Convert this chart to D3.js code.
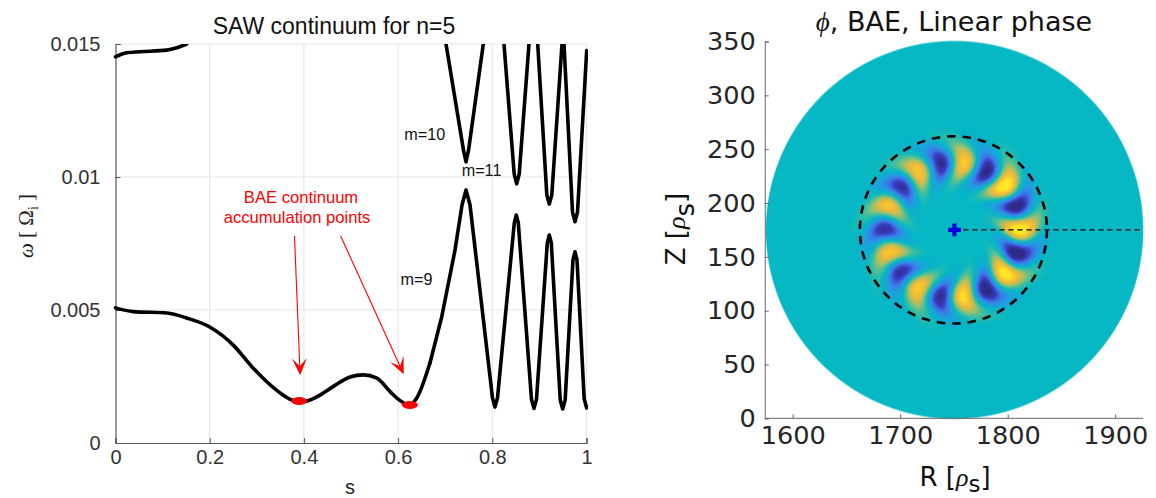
<!DOCTYPE html>
<html><head><meta charset="utf-8">
<style>html,body{margin:0;padding:0;background:#fff}svg{display:block}</style>
<script src="https://cdn.jsdelivr.net/npm/d3@7"></script></head>
<body><svg id="c" width="1156" height="498"></svg>
<script>
// ---- left panel data
const sTicks=[0,0.2,0.4,0.6,0.8,1];
const sTickLabels=["0","0.2","0.4","0.6","0.8","1"];
const wTicks=[0,0.005,0.01,0.015];
const wTickLabels=["0","0.005","0.01","0.015"];
const upperLeftS=[0,0.0238,0.052,0.1087,0.13,0.151];
const upperLeftW=[0.01452,0.01467,0.01471,0.01477,0.01486,0.0150];
const m9SmoothS=[0,0.0372,0.1097,0.151,0.2,0.25,0.29,0.32,0.356,0.374,0.39,0.409,0.434,0.462,0.498,0.526,0.555,0.583,0.602,0.625,0.6395,0.6677];
const m9SmoothW=[0.00508,0.00494,0.00489,0.0047,0.00436,0.00368,0.00286,0.00232,0.0018,0.00162,0.00155,0.00159,0.0018,0.00212,0.00248,0.00256,0.00244,0.00193,0.00162,0.00143,0.00169,0.00301];
const m9OscS=[0.6677,0.6926,0.7208,0.7357,0.7442,0.7527,0.8004,0.8057,0.8110,0.8467,0.8510,0.8552,0.8832,0.8885,0.8938,0.9168,0.921,0.9253,0.9442,0.9494,0.9547,0.9713,0.9756,0.9798,0.9951,1.0004];
const m9OscW=[0.00301,0.00474,0.00725,0.00895,0.00951,0.00895,0.00169,0.00135,0.00169,0.00827,0.00857,0.00827,0.00164,0.0013,0.00164,0.00752,0.00782,0.00752,0.00162,0.00128,0.00162,0.00689,0.00719,0.00689,0.00165,0.00132];
const m10S=[0.6953,0.7017,0.7389,0.7442,0.7495,0.7809,0.7951,0.8248,0.8465,0.8518,0.8571,0.8779,0.8885,0.8964,0.9158,0.921,0.9263,0.948,0.9501,0.9522,0.9703,0.9756,0.9809,1.0004];
const m10W=[0.0157,0.015,0.011,0.01057,0.011,0.015,0.017,0.015,0.01011,0.00974,0.01011,0.015,0.01646,0.015,0.00932,0.00898,0.00932,0.015,0.01522,0.015,0.00868,0.00832,0.00868,0.01475];
const accumS=[0.39,0.625];
const accumW=[0.00158,0.00143];
const modeLabels=["m=10","m=11","m=9"];
const modeS=[0.613,0.735,0.605];
const modeW=[0.01140,0.01005,0.00595];
const arrowTailS=[0.380,0.478];
const arrowTailW=[0.00778,0.00778];
const arrowTipS=[0.392,0.612];
const arrowTipW=[0.00255,0.00258];
// ---- right panel data
const rTicks=[1600,1700,1800,1900];
const zTicks=[0,50,100,150,200,250,300,350];
const lobeAngle=[0,20.6,41,61.7,83,102,122,142,161,181,200,219,238,259,278,299,319,339];
const lobeRadius=[60.8,61.7,62,62.6,62.3,63.6,63.9,63.6,63.6,64.8,65.4,63.6,63.9,63.2,63.2,62,62.3,61.7];
const lobeAmp=[1,-1,.95,-.95,.85,-.85,.75,-.8,.72,-.8,.7,-.8,.72,-.85,.75,-.9,1,-.95];
const colorStops=["#2f2a85","#3a3cc0","#3f78ea","#1ea0de","#05b8c4","#49bf9a","#a8c064","#e8b93f","#f9c62e","#fde725"];
const colorPos=[-1,-.75,-.5,-.25,0,.2,.4,.6,.8,1];
const discCenter=[1750.5,175];
const discRadius=175.5;
const qRadius=87;

const svg=d3.select("#c");
const sans="'Liberation Sans',Arial,sans-serif", dj="'DejaVu Sans',sans-serif", serif="'Liberation Serif',serif";
// LEFT
const x=d3.scaleLinear().domain([0,1]).range([115.5,586.5]);
const y=d3.scaleLinear().domain([0,0.015]).range([443,44]);
const L=svg.append("g");
L.selectAll(".gx").data(sTicks.slice(1)).join("line").attr("x1",x).attr("x2",x).attr("y1",y(0)).attr("y2",y(0.015)).attr("stroke","#e6e6e6").attr("stroke-width",1.2);
L.selectAll(".gy").data(wTicks.slice(1)).join("line").attr("x1",x(0)).attr("x2",x(1)).attr("y1",y).attr("y2",y).attr("stroke","#e6e6e6").attr("stroke-width",1.2);
const ax=L.append("g").attr("transform",`translate(0,${y(0)})`).call(d3.axisBottom(x).tickValues(sTicks).tickFormat((d,i)=>sTickLabels[i]).tickSize(-5).tickPadding(7));
const ay=L.append("g").attr("transform",`translate(${x(0)},0)`).call(d3.axisLeft(y).tickValues(wTicks).tickFormat((d,i)=>wTickLabels[i]).tickSize(-5).tickPadding(15));
[ax,ay].forEach(a=>{a.selectAll("path").attr("stroke","#555").attr("stroke-width",1.2);a.selectAll("line").attr("stroke","#555");a.selectAll("text").attr("font-family",sans).attr("font-size",20).attr("fill","#333");});
svg.append("clipPath").attr("id","clipL").append("rect").attr("x",100).attr("y",y(0.015)).attr("width",488).attr("height",y(0)-y(0.015));
const smooth=d3.line().curve(d3.curveMonotoneX);
const straight=d3.line().curve(d3.curveLinear);
const plot=L.append("g").attr("clip-path","url(#clipL)");
[[upperLeftS,upperLeftW,smooth],[m9SmoothS,m9SmoothW,smooth],[m9OscS,m9OscW,straight],[m10S,m10W,straight]].forEach(([a,b,gen])=>{
  plot.append("path").attr("d",gen(a.map((v,i)=>[x(v),y(b[i])]))).attr("fill","none").attr("stroke","#000").attr("stroke-width",3.6).attr("stroke-linecap","round").attr("stroke-linejoin","round");
});
L.selectAll(".acc").data(accumS).join("ellipse").attr("cx",d=>x(d)).attr("cy",(d,i)=>y(accumW[i])).attr("rx",8).attr("ry",4).attr("fill","#f00");
// arrows
arrowTailS.forEach((s,i)=>{
  const x0=x(s),y0=y(arrowTailW[i]),x1=x(arrowTipS[i]),y1=y(arrowTipW[i]);
  const a=Math.atan2(y1-y0,x1-x0),len=Math.hypot(x1-x0,y1-y0);
  const g=L.append("g").attr("transform",`translate(${x0},${y0}) rotate(${a*180/Math.PI})`);
  g.append("line").attr("x1",0).attr("y1",0).attr("x2",len-6).attr("y2",0).attr("stroke","#f00").attr("stroke-width",1.1);
  g.append("path").attr("d",`M${len},0L${len-17},-7.5L${len-9},0L${len-17},7.5Z`).attr("fill","#f00");
});
L.append("text").attr("x",301).attr("y",203).attr("text-anchor","middle").attr("font-family",sans).attr("font-size",16.6).attr("fill","#f00").text("BAE continuum");
L.append("text").attr("x",297).attr("y",223).attr("text-anchor","middle").attr("font-family",sans).attr("font-size",16.6).attr("fill","#f00").text("accumulation points");
L.selectAll(".ml").data(modeLabels).join("text").attr("x",(d,i)=>x(modeS[i])).attr("y",(d,i)=>y(modeW[i])).attr("font-family",sans).attr("font-size",16.2).attr("fill","#111").text(d=>d);
L.append("text").attr("x",334).attr("y",34).attr("text-anchor","middle").attr("font-family",sans).attr("font-size",23).attr("fill","#111").text("SAW continuum for n=5");
L.append("text").attr("x",350).attr("y",494).attr("text-anchor","middle").attr("font-family",sans).attr("font-size",20).attr("fill","#222").text("s");
const yl=L.append("text").attr("transform","translate(33,226) rotate(-90)").attr("text-anchor","middle").attr("font-family",serif).attr("font-size",21).attr("fill","#222");
yl.append("tspan").attr("font-style","italic").text("ω");yl.append("tspan").text(" [ Ω");yl.append("tspan").attr("font-size",14).attr("dy",5).text("i");yl.append("tspan").attr("dy",-5).text(" ]");
// RIGHT
const rx=d3.scaleLinear().domain([1600,1900]).range([792.7,1115.2]);
const ry=d3.scaleLinear().domain([0,350]).range([418.3,41.5]);
const R=svg.append("g");
const cmap=d3.scaleLinear().domain(colorPos).range(colorStops).clamp(true);
const W=Math.ceil(rx(discCenter[0]+discRadius)-rx(discCenter[0]-discRadius))+2, H=Math.ceil(ry(0)-ry(351))+2;
const ox=rx(discCenter[0]-discRadius)-1, oy=ry(351)-1;
const cv=document.createElement("canvas");cv.width=W;cv.height=H;const ctx=cv.getContext("2d");
const img=ctx.createImageData(W,H);
const sr=11.5, st=7.4;
for(let j=0;j<H;j++)for(let i=0;i<W;i++){
  const dR=rx.invert(ox+i+.5)-discCenter[0], dZ=ry.invert(oy+j+.5)-discCenter[1];
  const r=Math.hypot(dR,dZ); const k=(j*W+i)*4;
  const edge=Math.max(0,Math.min(1,(discRadius-r)*1.075+.5));
  let v=0; const th=(Math.atan2(-dZ,dR)*180/Math.PI+360)%360;
  if(r<130&&r>5){for(let n=0;n<lobeAngle.length;n++){
    const dr=r-lobeRadius[n];
    let dt=((th-lobeAngle[n]+540)%360)-180;
    dt+= 0.02*dr*dr;
    v+=lobeAmp[n]*Math.exp(-(dr*dr)/(2*sr*sr)-(dt*dt)/(2*st*st));
  }}
  const c=d3.rgb(cmap(v*1.2));
  img.data[k]=c.r;img.data[k+1]=c.g;img.data[k+2]=c.b;img.data[k+3]=255*edge;
}
ctx.putImageData(img,0,0);
R.append("image").attr("x",ox).attr("y",oy).attr("width",W).attr("height",H).attr("href",cv.toDataURL());
const bx=R.append("g").attr("transform",`translate(0,${ry(0)})`).call(d3.axisBottom(rx).tickValues(rTicks).tickFormat(d3.format("d")).tickSize(-4).tickPadding(8));
const by=R.append("g").attr("transform",`translate(${rx(1574)},0)`).call(d3.axisLeft(ry).tickValues(zTicks).tickSize(-4).tickPadding(9));
bx.select("path").attr("d",`M${rx(1574)},0H${rx(1926)}`);
[bx,by].forEach(a=>{a.selectAll("path").attr("stroke","#666").attr("stroke-width",1);a.selectAll("line").attr("stroke","#666");a.selectAll("text").attr("font-family",dj).attr("font-size",25.6).attr("fill","#262626");});
const cx=rx(discCenter[0]),cy=ry(discCenter[1]);
R.append("ellipse").attr("cx",rx(discCenter[0]-1)).attr("cy",cy).attr("rx",rx(discCenter[0]+qRadius)-cx).attr("ry",ry(discCenter[1])-ry(discCenter[1]+qRadius)).attr("fill","none").attr("stroke","#000").attr("stroke-width",2.6).attr("stroke-dasharray","8.5 7");
R.append("line").attr("x1",cx).attr("x2",rx(1925)).attr("y1",cy).attr("y2",cy).attr("stroke","#000").attr("stroke-width",1.3).attr("stroke-dasharray","5 4");
R.append("path").attr("d",d3.symbol(d3.symbolCross,90)()).attr("transform",`translate(${cx},${cy})`).attr("fill","#0000d8");
const t=R.append("text").attr("x",954).attr("y",31).attr("text-anchor","middle").attr("font-family",dj).attr("font-size",27).attr("fill","#111");
t.append("tspan").attr("font-family",serif).attr("font-style","italic").text("ϕ");t.append("tspan").text(", BAE, Linear phase");
const xl=R.append("text").attr("x",955).attr("y",486).attr("text-anchor","middle").attr("font-family",dj).attr("font-size",26).attr("fill","#111");
xl.append("tspan").text("R [");xl.append("tspan").attr("font-family",serif).attr("font-style","italic").text("ρ");xl.append("tspan").attr("dy",6).attr("font-size",23).text("s");xl.append("tspan").attr("dy",-6).text("]");
const zl=R.append("text").attr("transform","translate(685,229) rotate(-90)").attr("text-anchor","middle").attr("font-family",dj).attr("font-size",26).attr("fill","#111");
zl.append("tspan").text("Z [");zl.append("tspan").attr("font-family",serif).attr("font-style","italic").text("ρ");zl.append("tspan").attr("dy",9).text("s");zl.append("tspan").attr("dy",-9).text("]");
</script></body></html>
